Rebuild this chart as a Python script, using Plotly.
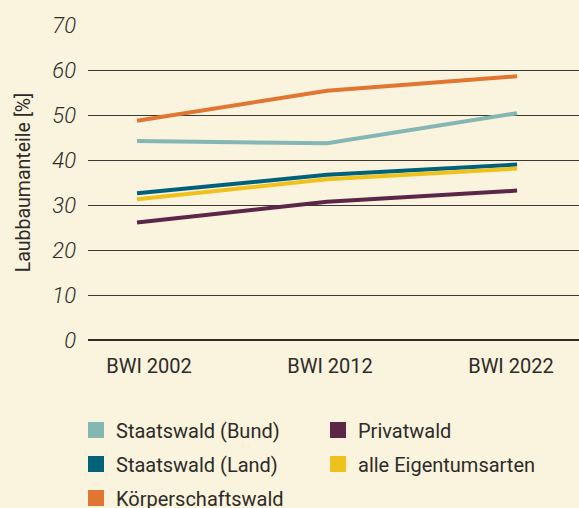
import plotly.graph_objects as go

categories = ["BWI 2002", "BWI 2012", "BWI 2022"]
staatswald_bund = [44.2, 43.7, 50.4]
staatswald_land = [32.6, 36.7, 39.0]
koerperschaftswald = [48.7, 55.4, 58.6]
privatwald = [26.1, 30.7, 33.2]
alle_eigentumsarten = [31.3, 35.7, 38.1]
y_ticks = [0, 10, 20, 30, 40, 50, 60, 70]

series_names = ["Staatswald (Bund)", "Staatswald (Land)", "Körperschaftswald",
                "Privatwald", "alle Eigentumsarten"]
series_values = [staatswald_bund, staatswald_land, koerperschaftswald,
                 privatwald, alle_eigentumsarten]
series_colors = ["#84b6b4", "#00627a", "#e07632", "#5b2647", "#eec11c"]
draw_order = [0, 2, 1, 4, 3]

# legend slots (column, row) for each series
legend_slots = [(0, 0), (0, 1), (0, 2), (1, 0), (1, 1)]

bg = "#faf3dd"
txt = "#2e2b28"
font_fam = "Roboto, sans-serif"

W, H = 579, 508

fig = go.Figure()
for i in draw_order:
    fig.add_trace(go.Scatter(
        x=categories, y=series_values[i], mode="lines", name=series_names[i],
        line=dict(color=series_colors[i], width=4), showlegend=False, hoverinfo="skip"))

# category labels drawn on a separate overlaying axis (label spacing differs slightly from line points)
fig.add_trace(go.Scatter(x=categories, y=[None] * len(categories), xaxis="x2",
                         mode="markers", showlegend=False, hoverinfo="skip"))

col_x = [76 / W, 318 / W]
row_y = [1 - 430 / H, 1 - 464 / H, 1 - 498 / H]
legends = {}
for i, name in enumerate(series_names):
    key = "legend" if i == 0 else f"legend{i + 1}"
    c, r = legend_slots[i]
    fig.add_trace(go.Scatter(
        x=[None], y=[None], mode="markers", name=name, legend=key,
        marker=dict(symbol="square", size=18, color=series_colors[i]), showlegend=True))
    legends[key] = dict(
        orientation="h", xref="container", yref="container", x=col_x[c], xanchor="left",
        y=row_y[r], yanchor="middle", font=dict(size=20, color=txt, family=font_fam),
        itemsizing="trace", bgcolor="rgba(0,0,0,0)",
    )

fig.update_layout(
    width=W, height=H,
    paper_bgcolor=bg, plot_bgcolor=bg,
    margin=dict(l=88, r=0, t=25, b=168),
    font=dict(family=font_fam, color=txt, size=16),
    xaxis=dict(
        type="category", range=[-0.258, 2.326], showgrid=False, zeroline=False,
        showline=False, ticks="", showticklabels=False, automargin=False,
    ),
    xaxis2=dict(
        type="category", overlaying="x", side="bottom", anchor="y",
        range=[-0.337, 2.376], showgrid=False, zeroline=False,
        showline=False, ticks="", ticklabelstandoff=12,
        tickfont=dict(size=20, color=txt), automargin=False,
    ),
    yaxis=dict(
        range=[0, 70], tickvals=y_ticks, showgrid=True, gridcolor="#3a3735",
        gridwidth=1.2, zeroline=True, zerolinecolor="#2e2b28", zerolinewidth=2,
        showline=False, ticks="", ticklabelstandoff=11, automargin=False,
        tickfont=dict(size=22, color=txt, family=font_fam, style="italic", weight=300),
        title=dict(text="Laubbaumanteile [%]", font=dict(size=19.5, color=txt), standoff=16),
    ),
    **legends,
)

fig.write_html(
    "out.html",
    config={"displayModeBar": False},
    post_script="document.body.style.margin='0';document.body.style.background='" + bg + "';",
)
